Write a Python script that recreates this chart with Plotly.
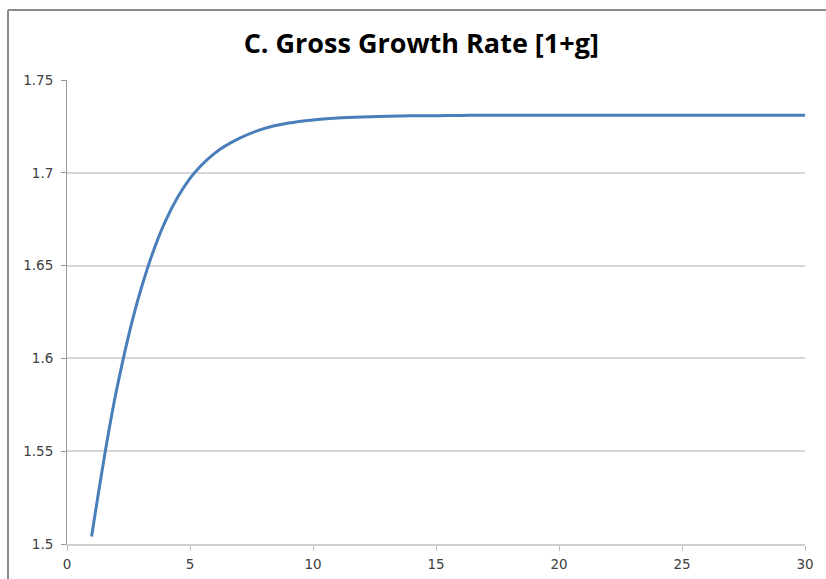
import plotly.graph_objects as go

periods = list(range(1, 31))
gross_growth = [1.504, 1.582, 1.637, 1.674, 1.697, 1.7105, 1.7185, 1.7238, 1.7268, 1.7285,
                1.7295, 1.7301, 1.7305, 1.7307, 1.7308, 1.7309, 1.7310, 1.7310, 1.7310, 1.7310,
                1.7310, 1.7310, 1.7310, 1.7310, 1.7310, 1.7310, 1.7310, 1.7310, 1.7310, 1.7310]
y_ticks = [1.5, 1.55, 1.6, 1.65, 1.7, 1.75]
y_labels = ["1.5", "1.55", "1.6", "1.65", "1.7", "1.75"]
x_ticks = [0, 5, 10, 15, 20, 25, 30]
title = "C. Gross Growth Rate [1+g]"

fig = go.Figure()
fig.add_trace(go.Scatter(x=periods, y=gross_growth, mode="lines",
                         line=dict(color="#4a7ebb", width=3, shape="spline", smoothing=1.0),
                         showlegend=False))

left_px, top_px = 8, 10
tick_font = dict(family="DejaVu Sans", size=13.5, color="#404040")
fig.update_layout(
    width=826, height=579,
    margin=dict(l=67, r=21, t=80, b=35, autoexpand=False),
    paper_bgcolor="white", plot_bgcolor="white",
    title=dict(text="<b>" + title + "</b>", x=0.51, xanchor="center", y=0.925, yanchor="middle",
               font=dict(family="Open Sans", size=27, color="#000000")),
    font=dict(family="DejaVu Sans", size=13, color="#404040"),
    xaxis=dict(range=[0, 30], tickvals=x_ticks, showgrid=False, zeroline=False,
               showline=True, linecolor="#d0d0d0", linewidth=1.5, automargin=False,
               ticks="outside", ticklen=5, tickcolor="#c0c0c0", tickwidth=1,
               ticklabelstandoff=2, tickfont=tick_font),
    yaxis=dict(range=[1.5, 1.75], tickvals=y_ticks, ticktext=y_labels,
               showgrid=True, gridcolor="#d6d6d6", gridwidth=1.5, zeroline=False,
               showline=True, linecolor="#999999", linewidth=1, automargin=False,
               ticks="outside", ticklen=5, tickcolor="#999999",
               ticklabelstandoff=5, tickfont=tick_font),
    shapes=[
        dict(type="line", xref="paper", yref="paper",
             x0=(left_px - 67) / 738, x1=(830 - 67) / 738,
             y0=(544 - top_px) / 464, y1=(544 - top_px) / 464,
             line=dict(color="#8c8c8c", width=2)),
        dict(type="line", xref="paper", yref="paper",
             x0=(left_px - 67) / 738, x1=(left_px - 67) / 738,
             y0=(544 - top_px) / 464, y1=(544 - 585) / 464,
             line=dict(color="#8c8c8c", width=2)),
    ],
)

fig.write_html("out.html", config={"displayModeBar": False},
               post_script="document.body.style.margin='0';document.body.style.overflow='hidden';")
